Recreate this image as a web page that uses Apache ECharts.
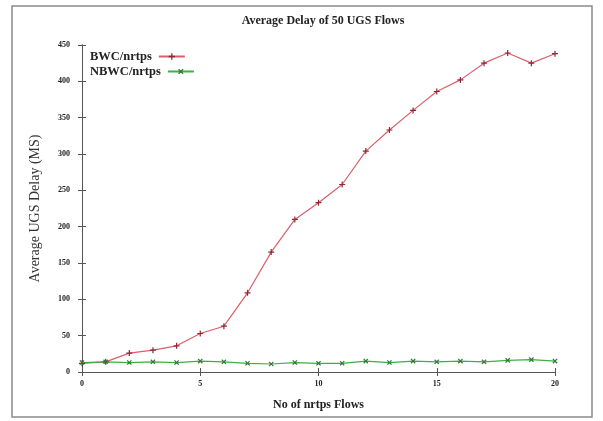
<!DOCTYPE html>
<html>
<head>
<meta charset="utf-8">
<script src="https://cdn.jsdelivr.net/npm/echarts@6/dist/echarts.min.js"></script>
<style>
  html, body { margin: 0; padding: 0; background: #fff; }
  #chart { width: 603px; height: 421px; }
</style>
</head>
<body>
<div id="chart"></div>
<script>
// Number of nrtps flows (x) and average UGS delay in ms for each scheme
const flows = [0, 1, 2, 3, 4, 5, 6, 7, 8, 9, 10, 11, 12, 13, 14, 15, 16, 17, 18, 19, 20];
const bwcDelay = [12, 14, 26, 30, 36, 53, 63, 109, 165, 210, 233, 258, 304, 333, 360, 386, 402, 425, 439, 425, 438];
const nbwcDelay = [13, 14, 13, 14, 13, 15, 14, 12, 11, 13, 12, 12, 15, 13, 15, 14, 15, 14, 16, 17, 15];
const seriesNames = ['BWC/nrtps', 'NBWC/nrtps'];

const serif = 'Liberation Serif, Times New Roman, serif';
const plusPath = 'path://M4,0H6V4H10V6H6V10H4V6H0V4H4Z';

const chart = echarts.init(document.getElementById('chart'), null, { renderer: 'canvas' });

const zip = (ys) => flows.map((x, i) => [x, ys[i]]);

const axisCommon = {
  type: 'value',
  axisLine: { show: true, lineStyle: { color: '#555', width: 1 } },
  axisTick: { show: true, inside: true, length: 4, lineStyle: { color: '#555' } },
  splitLine: { show: false }
};

// Key entries: label first, line sample after it
const legendEntry = (name, top) => ({
  orient: 'horizontal',
  left: 85, top: top,
  align: 'right',
  itemWidth: 26, itemHeight: 8,
  textStyle: { fontFamily: serif, fontWeight: 'bold', fontSize: 12.5, color: '#222', padding: [0, 2, 0, 0] },
  data: [name]
});

chart.setOption({
  animation: false,
  backgroundColor: '#fff',
  title: {
    text: 'Average Delay of 50 UGS Flows',
    left: 318, top: 10, textAlign: 'center',
    textStyle: { fontFamily: serif, fontWeight: 'bold', fontSize: 12, color: '#222' }
  },
  legend: [legendEntry(seriesNames[0], 45), legendEntry(seriesNames[1], 60)],
  grid: { left: 82, right: 48, top: 45, bottom: 49, containLabel: false },
  xAxis: [
    Object.assign({}, axisCommon, {
      min: 0, max: 20, interval: 5,
      name: 'No of nrtps Flows', nameLocation: 'middle', nameGap: 27,
      nameTextStyle: { fontFamily: serif, fontWeight: 'bold', fontSize: 12, color: '#222' },
      axisLabel: { margin: 8, fontFamily: serif, fontWeight: 'bold', fontSize: 8, color: '#222' }
    }),
    Object.assign({}, axisCommon, {
      position: 'top', min: 0, max: 20, interval: 5,
      axisLabel: { show: false }
    })
  ],
  yAxis: [
    Object.assign({}, axisCommon, {
      min: 0, max: 450, interval: 50,
      name: 'Average UGS Delay (MS)', nameLocation: 'middle', nameGap: 40,
      nameTextStyle: { fontFamily: serif, fontWeight: 'normal', fontSize: 14, color: '#333' },
      axisLabel: { margin: 12, fontFamily: serif, fontWeight: 'bold', fontSize: 8, color: '#222' }
    }),
    Object.assign({}, axisCommon, {
      position: 'right', min: 0, max: 450, interval: 50,
      axisLabel: { show: false }
    })
  ],
  series: [
    {
      name: seriesNames[0], type: 'line', data: zip(bwcDelay),
      symbol: plusPath, symbolSize: 6,
      lineStyle: { color: '#dc5f6c', width: 1.2 },
      itemStyle: { color: '#8b2a35' }
    },
    {
      name: seriesNames[1], type: 'line', data: zip(nbwcDelay),
      symbol: plusPath, symbolSize: 6, symbolRotate: 45,
      lineStyle: { color: '#3cb043', width: 1.2 },
      itemStyle: { color: '#2f7a33' }
    }
  ],
  graphic: [
    {
      type: 'rect', silent: true, z: -1,
      shape: { x: 12, y: 6, width: 580, height: 411 },
      style: { fill: 'none', stroke: '#8a8a8a', lineWidth: 1.5 }
    }
  ]
});
</script>
</body>
</html>
